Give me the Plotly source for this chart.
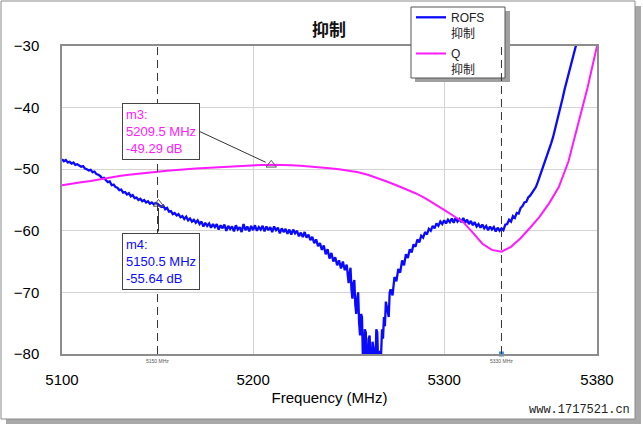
import plotly.graph_objects as go

# ---------------- data ----------------
# ROFS trace, part A: 5100-5249 MHz at 1 MHz
freq_rofs_a = list(range(5100, 5250))
rofs_db_a = [
    -48.4, -48.7, -48.5, -48.9, -48.8, -49.1, -48.9, -49.3, -49.2, -49.4,
    -49.6, -49.5, -49.9, -50.0, -50.2, -50.1, -50.5, -50.4, -50.8, -50.9,
    -51.1, -51.5, -51.4, -51.8, -52.1, -52.0, -52.6, -52.5, -52.9, -53.0,
    -53.4, -53.3, -53.8, -53.7, -54.1, -53.9, -54.4, -54.2, -54.7, -54.6,
    -55.0, -54.8, -55.2, -55.0, -55.4, -55.2, -55.6, -55.4, -55.7, -55.5,
    -55.6, -55.9, -56.1, -55.9, -56.5, -56.3, -56.9, -56.8, -57.3, -57.1,
    -57.5, -57.3, -57.8, -57.6, -58.1, -57.7, -58.3, -58.0, -58.5, -58.2,
    -58.7, -58.3, -58.9, -58.5, -59.3, -58.7, -59.2, -58.8, -59.5, -58.9,
    -59.4, -58.9, -59.8, -59.1, -59.6, -59.0, -60.0, -59.2, -59.7, -59.3,
    -60.1, -59.1, -59.8, -59.4, -60.2, -58.9, -59.9, -59.3, -60.1, -59.2,
    -59.9, -59.1, -60.0, -59.4, -59.8, -59.2, -60.1, -59.3, -59.9, -59.4,
    -60.2, -59.3, -59.9, -59.5, -60.4, -59.6, -60.2, -59.7, -60.5, -59.8,
    -60.6, -59.8, -60.4, -60.0, -60.9, -60.3, -61.0, -60.2, -61.1, -60.6,
    -61.5, -61.0, -62.0, -61.4, -62.5, -62.0, -63.1, -62.4, -63.8, -63.0,
    -64.5, -63.6, -65.0, -64.3, -65.6, -64.8, -66.1, -65.0, -66.4, -65.5,
]
# ROFS trace, notch: 5250-5271.5 MHz at 0.5 MHz
freq_rofs_dip = [5250 + 0.5 * i for i in range(44)]
rofs_db_dip = [
    -68.5, -67.0, -66.0, -69.5, -71.0, -68.5, -68.0, -72.0, -73.5, -71.0,
    -70.0, -75.0, -77.0, -73.5, -74.0, -81.0, -81.0, -76.0, -76.5, -82.0,
    -82.0, -77.5, -77.0, -82.5, -83.0, -78.0, -79.0, -83.0, -82.0, -76.0,
    -76.5, -82.0, -83.0, -79.5, -80.0, -76.0, -77.5, -74.0, -75.5, -71.5,
    -72.5, -73.5, -74.0, -70.0,
]
# ROFS trace, part B: 5272-5380 MHz at 1 MHz
freq_rofs_b = list(range(5272, 5381))
rofs_db_b = [
    -69.5, -70.5, -67.5, -68.2, -66.2, -66.8, -64.8, -65.6,
    -63.8, -64.4, -63.0, -63.5, -62.2, -62.6, -61.4, -61.9, -60.8, -61.1,
    -60.2, -60.6, -59.7, -60.0, -59.2, -59.6, -58.8, -59.2, -58.5, -58.9,
    -58.3, -58.8, -58.2, -58.6, -58.0, -58.7, -57.9, -58.5, -58.1, -58.6,
    -57.9, -58.7, -58.2, -58.9, -58.4, -59.1, -58.6, -59.3, -58.9, -59.5,
    -59.0, -59.6, -59.2, -59.9, -59.3, -59.8, -59.4, -60.1, -59.5, -60.0,
    -59.6, -59.9, -59.0, -58.9, -58.2, -58.5, -57.6, -57.9, -57.1, -57.2,
    -56.3, -56.0, -55.4, -55.3, -54.6, -54.3, -53.8, -53.3, -52.9, -52.1,
    -51.2, -50.4, -49.6, -48.7, -47.9, -46.9, -45.8, -44.8, -43.6, -42.3,
    -41.0, -39.8, -38.5, -37.1, -35.8, -34.5, -33.1, -31.8, -30.5, -29.3,
    -28.1, -27.0, -25.9, -24.8, -23.7, -22.6, -21.5, -20.4, -19.3, -18.2, -17.1,
]

freq_q = list(range(5100, 5381, 5))
q_db = [
    -52.6, -52.3, -52.1, -51.9, -51.6, -51.3, -51.1, -50.9, -50.7, -50.55,
    -50.4, -50.25, -50.1, -50.0, -49.9, -49.8, -49.7, -49.6, -49.5, -49.4,
    -49.35, -49.3, -49.29, -49.3, -49.35, -49.45, -49.55, -49.7, -49.85, -50.0,
    -50.2, -50.5, -50.9, -51.4, -52.0, -52.6, -53.2, -53.9, -54.7, -55.6,
    -56.6, -57.6, -58.6, -60.3, -62.1, -63.1, -63.4, -62.6, -61.2, -59.5,
    -57.7, -55.5, -52.9, -48.8, -42.8, -36.8, -30.0,
]

series_names = ["ROFS<br>抑制", "Q<br>抑制"]
series_colors = ["#0a0aff", "#ff1aff"]

marker_names = ["m3", "m4"]
marker_freq = [5209.5, 5150.5]
marker_db = [-49.29, -55.64]

vline_freq = [5150, 5330]
vline_labels = ["5150 MHz", "5330 MHz"]

x_ticks = [5100, 5200, 5300, 5380]
y_ticks = [-80, -70, -60, -50, -40, -30]

freq_rofs = freq_rofs_a + freq_rofs_dip + freq_rofs_b
rofs_db = rofs_db_a + rofs_db_dip + rofs_db_b

# ---------------- layout helpers ----------------
W, H = 643, 430
L, R, T, B = 62, 46, 46, 76
PW, PH = W - L - R, H - T - B


def px(x):
    return (x - L) / PW


def py(y):
    return (H - B - y) / PH


FONT = "Liberation Sans, Arial, Noto Sans CJK SC, sans-serif"

fig = go.Figure()

fig.add_trace(go.Scatter(x=freq_rofs, y=rofs_db, mode="lines", name=series_names[0],
                         legendgroup="g1",
                         line=dict(color=series_colors[0], width=2.3)))
fig.add_trace(go.Scatter(x=freq_q, y=q_db, mode="lines", name=series_names[1],
                         legendgroup="g2",
                         line=dict(color=series_colors[1], width=2)))

# marker triangles
fig.add_trace(go.Scatter(x=marker_freq, y=marker_db, mode="markers", showlegend=False,
                         marker=dict(symbol="triangle-up-open", size=9,
                                     color="#555555", line=dict(width=1))))

# small blue squares at the 5330 marker line ends
fig.add_trace(go.Scatter(x=[vline_freq[1], vline_freq[1]], y=[-30, -80], mode="markers",
                         showlegend=False, cliponaxis=False,
                         marker=dict(symbol="square", size=5, color="#3a8fe8")))

shapes = []
# outer frame with shadow
shapes.append(dict(type="rect", xref="paper", yref="paper", layer="below",
                   x0=px(6), x1=px(641), y0=py(424), y1=py(6),
                   fillcolor="#a8a8a8", line=dict(width=0)))
shapes.append(dict(type="rect", xref="paper", yref="paper", layer="below",
                   x0=px(1), x1=px(635), y0=py(419), y1=py(1),
                   fillcolor="white", line=dict(color="#8a8a8a", width=1)))
# legend box with shadow
shapes.append(dict(type="rect", xref="paper", yref="paper", layer="above",
                   x0=px(415), x1=px(510), y0=py(82), y1=py(11),
                   fillcolor="#a0a0a0", line=dict(width=0)))
shapes.append(dict(type="rect", xref="paper", yref="paper", layer="above",
                   x0=px(411), x1=px(505), y0=py(78), y1=py(7),
                   fillcolor="white", line=dict(color="#555555", width=1)))
# annotation box shadows
for top in (103, 233):
    shapes.append(dict(type="rect", xref="paper", yref="paper", layer="above",
                       x0=px(125), x1=px(200), y0=py(top + 52), y1=py(top + 3),
                       fillcolor="#b8b8b8", line=dict(width=0)))
# dashed marker lines
for f in vline_freq:
    shapes.append(dict(type="line", xref="x", yref="paper", x0=f, x1=f, y0=0, y1=1,
                       line=dict(color="#333333", width=1, dash="8px,5px")))

annotations = []
box_tops = [103, 233]
for name, f, v, col, top in zip(marker_names, marker_freq, marker_db,
                                [series_colors[1], series_colors[0]], box_tops):
    annotations.append(dict(xref="paper", yref="paper", x=px(122), y=py(top),
                            xanchor="left", yanchor="top", showarrow=False, align="left",
                            text=f"{name}:<br>{f} MHz<br>{v:.2f} dB",
                            font=dict(family=FONT, size=13, color=col),
                            bgcolor="white", bordercolor="#444444", borderwidth=1,
                            borderpad=3))
# leader lines
annotations.append(dict(xref="x", yref="y", x=marker_freq[0], y=marker_db[0], text="",
                        showarrow=True, arrowhead=0, arrowwidth=1, arrowcolor="#333333",
                        ax=-73, ay=-34, standoff=6))
annotations.append(dict(xref="x", yref="y", x=marker_freq[1], y=marker_db[1], text="",
                        showarrow=True, arrowhead=0, arrowwidth=1, arrowcolor="#333333",
                        ax=0, ay=29, standoff=4))
# tiny marker-line labels under the axis
for f, lab in zip(vline_freq, vline_labels):
    annotations.append(dict(xref="x", yref="paper", x=f, y=0, yanchor="top", yshift=-2,
                            showarrow=False, text=lab,
                            font=dict(family=FONT, size=5, color="#555555")))
# watermark
annotations.append(dict(xref="paper", yref="paper", x=px(632), y=py(410), xanchor="right",
                        yanchor="middle", showarrow=False, text="www.1717521.cn",
                        font=dict(family="Liberation Mono, DejaVu Sans Mono, monospace",
                                  size=12, color="#222222")))

fig.update_layout(
    width=W, height=H,
    margin=dict(l=L, r=R, t=T, b=B, autoexpand=False),
    paper_bgcolor="white", plot_bgcolor="rgba(0,0,0,0)",
    font=dict(family=FONT, size=15, color="black"),
    title=dict(text="<b>抑制</b>", x=px(329), xanchor="center", xref="paper",
               y=1 - 30 / H, yanchor="middle", font=dict(size=17, color="#111111")),
    showlegend=True,
    legend=dict(x=px(411), y=py(3), xanchor="left", yanchor="top",
                bgcolor="rgba(0,0,0,0)", borderwidth=0,
                font=dict(family=FONT, size=12, color="#222222"), valign="top",
                tracegroupgap=2),
    shapes=shapes,
    annotations=annotations,
    xaxis=dict(range=[5100, 5380], tickvals=x_ticks, ticktext=[str(t) for t in x_ticks],
               showgrid=True, gridcolor="#d4d4d4", gridwidth=1, zeroline=False,
               showline=True, mirror=True, linecolor="#8c8c8c", linewidth=1.5,
               ticks="", ticklabelstandoff=11, tickfont=dict(size=15),
               title=dict(text="Frequency (MHz)", standoff=6, font=dict(size=15))),
    yaxis=dict(range=[-80, -30], tickvals=y_ticks, showgrid=True, gridcolor="#d4d4d4",
               gridwidth=1, zeroline=False, showline=True, mirror=True,
               linecolor="#8c8c8c", linewidth=1.5, ticks="", ticklabelstandoff=18,
               tickfont=dict(size=15)),
)

fig.write_html("out.html", config={"displayModeBar": False},
               post_script="document.body.style.margin='0px';document.body.style.padding='0px';")
